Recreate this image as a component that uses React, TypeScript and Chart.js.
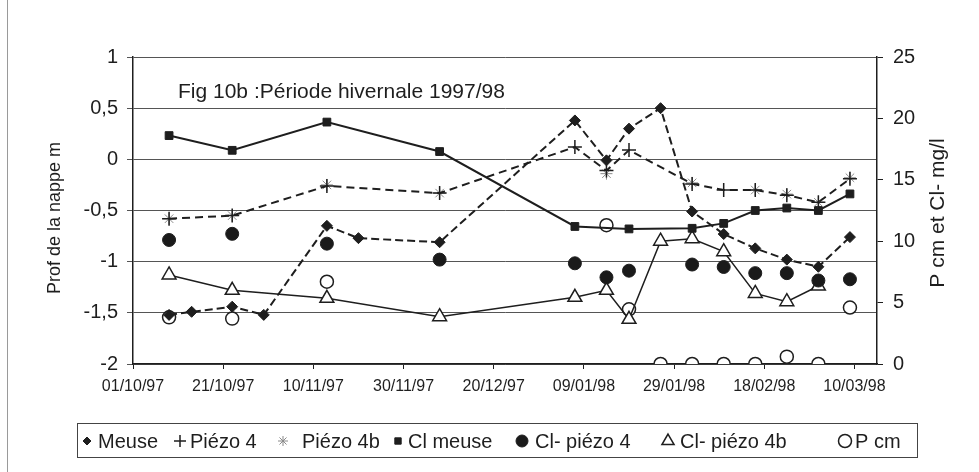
import React, { useEffect, useRef } from "react";
import { Chart, registerables } from "chart.js";
import { drawPoint } from "chart.js/helpers";

Chart.register(...registerables);

// ---------- data ----------
const baseDate = "1997-10-01";
const obsDates = [
  "1997-10-09", "1997-10-23", "1997-11-13", "1997-12-08", "1998-01-07",
  "1998-01-14", "1998-01-19", "1998-01-26", "1998-02-02", "1998-02-09",
  "1998-02-16", "1998-02-23", "1998-03-02", "1998-03-09",
];
const meuseDates = [
  "1997-10-09", "1997-10-14", "1997-10-23", "1997-10-30", "1997-11-13",
  "1997-11-20", "1997-12-08", "1998-01-07", "1998-01-14", "1998-01-19",
  "1998-01-26", "1998-02-02", "1998-02-09", "1998-02-16", "1998-02-23",
  "1998-03-02", "1998-03-09",
];
const meuseValues = [
  -1.52, -1.49, -1.44, -1.52, -0.65, -0.77, -0.81, 0.38, -0.01, 0.3, 0.5,
  -0.51, -0.73, -0.87, -0.98, -1.05, -0.76,
];
const piezo4Values = [-0.58, -0.55, -0.26, -0.33, 0.12, -0.11, 0.09, null, -0.24, -0.3, -0.3, -0.35, -0.42, -0.19];
const piezo4bValues = [-0.58, -0.55, -0.25, -0.33, null, -0.14, null, null, -0.23, null, -0.3, -0.34, -0.42, -0.18];
const clMeuseValues = [18.6, 17.4, 19.7, 17.3, 11.2, null, 11.0, null, 11.05, 11.45, 12.5, 12.7, 12.5, 13.85];
const clPiezo4Values = [10.1, 10.6, 9.8, 8.5, 8.2, 7.06, 7.6, null, 8.1, 7.9, 7.4, 7.4, 6.8, 6.9];
const clPiezo4bValues = [7.25, 6.0, 5.35, 3.85, 5.43, 6.0, 3.64, 10.0, 10.2, 9.15, 5.75, 5.07, 6.35, null];
const pCmValues = [3.8, 3.7, 6.7, null, null, 11.3, 4.45, 0, 0, 0, 0, 0.6, 0, 4.6];

const xTickDays = [0, 20, 40, 60, 80, 100, 120, 140, 160];
const leftTicks = [-2, -1.5, -1, -0.5, 0, 0.5, 1];
const rightTicks = [0, 5, 10, 15, 20, 25];

const chartTitle = "Fig 10b :Période hivernale 1997/98";
const leftAxisTitle = "Prof de la nappe m";
const rightAxisTitle = "P cm et Cl- mg/l";
const seriesLabels = ["Meuse", "Piézo 4", "Piézo 4b", "Cl meuse", "Cl- piézo 4", "Cl- piézo 4b", "P cm"];

// ---------- helpers ----------
const DAY = 86400000;
const toUTC = (s: string) => {
  const [y, m, d] = s.split("-").map(Number);
  return Date.UTC(y, m - 1, d);
};
const dayOf = (s: string) => (toUTC(s) - toUTC(baseDate)) / DAY;
const fmtDay = (v: number) => {
  const d = new Date(toUTC(baseDate) + v * DAY);
  const dd = String(d.getUTCDate()).padStart(2, "0");
  const mm = String(d.getUTCMonth() + 1).padStart(2, "0");
  const yy = String(d.getUTCFullYear() % 100).padStart(2, "0");
  return `${dd}/${mm}/${yy}`;
};
const series = (dates: string[], vals: (number | null)[]) =>
  dates
    .map((d, i) => ({ x: dayOf(d), y: vals[i] }))
    .filter((p) => p.y !== null && p.y !== undefined);

const FONT = "'Liberation Sans', Arial, sans-serif";
const INK = "#1e1e1e";

export default function App() {
  const ref = useRef<HTMLCanvasElement | null>(null);

  useEffect(() => {
    document.body.style.margin = "0";
    const canvas = ref.current!;
    Chart.defaults.font.family = FONT;
    Chart.defaults.color = INK;

    const datasets: any[] = [
      {
        label: seriesLabels[0],
        data: series(meuseDates, meuseValues),
        yAxisID: "y",
        borderColor: INK,
        borderWidth: 2,
        borderDash: [8, 4],
        pointStyle: "rectRot",
        pointRadius: 5.5,
        pointBackgroundColor: INK,
        pointBorderColor: INK,
        pointBorderWidth: 1,
      },
      {
        label: seriesLabels[1],
        data: series(obsDates, piezo4Values),
        yAxisID: "y",
        borderColor: INK,
        borderWidth: 2,
        borderDash: [8, 5],
        pointStyle: "cross",
        pointRadius: 7,
        pointBorderColor: INK,
        pointBorderWidth: 1.5,
      },
      {
        label: seriesLabels[2],
        data: series(obsDates, piezo4bValues),
        yAxisID: "y",
        showLine: false,
        pointStyle: "star",
        pointRadius: 6,
        pointBorderColor: "#8a8a8a",
        pointBorderWidth: 1,
      },
      {
        label: seriesLabels[3],
        data: series(obsDates, clMeuseValues),
        yAxisID: "y1",
        borderColor: INK,
        borderWidth: 2,
        pointStyle: "rect",
        pointRadius: 5.5,
        pointBackgroundColor: INK,
        pointBorderColor: INK,
        pointBorderWidth: 1,
      },
      {
        label: seriesLabels[4],
        data: series(obsDates, clPiezo4Values),
        yAxisID: "y1",
        showLine: false,
        pointStyle: "circle",
        pointRadius: 6.5,
        pointBackgroundColor: "#1a1a1a",
        pointBorderColor: INK,
        pointBorderWidth: 1,
      },
      {
        label: seriesLabels[5],
        data: series(obsDates, clPiezo4bValues),
        yAxisID: "y1",
        borderColor: INK,
        borderWidth: 1.5,
        pointStyle: "triangle",
        pointRadius: 8,
        pointBackgroundColor: "#ffffff",
        pointBorderColor: INK,
        pointBorderWidth: 1.5,
      },
      {
        label: seriesLabels[6],
        data: series(obsDates, pCmValues),
        yAxisID: "y1",
        showLine: false,
        pointStyle: "circle",
        pointRadius: 6.5,
        pointBackgroundColor: "#ffffff",
        pointBorderColor: INK,
        pointBorderWidth: 1.5,
      },
    ];

    const legendLayout = [
      { mx: 87, tx: 98, r: 4 },
      { mx: 180, tx: 190, r: 6 },
      { mx: 283, tx: 302, r: 5 },
      { mx: 398, tx: 408, r: 4.5 },
      { mx: 522, tx: 535, r: 6 },
      { mx: 668, tx: 680, r: 7 },
      { mx: 845, tx: 855, r: 6.5 },
    ];

    const decor = {
      id: "decor",
      afterDraw(chart: any) {
        const ctx = chart.ctx as CanvasRenderingContext2D;
        ctx.save();
        // outer left border
        ctx.strokeStyle = "#9a9a9a";
        ctx.lineWidth = 1;
        ctx.beginPath();
        ctx.moveTo(7.5, 0);
        ctx.lineTo(7.5, 472);
        ctx.stroke();
        // title inside plot
        ctx.fillStyle = INK;
        ctx.font = `21px ${FONT}`;
        ctx.textBaseline = "alphabetic";
        ctx.textAlign = "left";
        ctx.fillText(chartTitle, 178, 98);
        // axis titles (both read bottom to top)
        ctx.textAlign = "center";
        ctx.textBaseline = "middle";
        ctx.save();
        ctx.translate(55, 218);
        ctx.rotate(-Math.PI / 2);
        ctx.font = `18px ${FONT}`;
        ctx.fillText(leftAxisTitle, 0, 0);
        ctx.restore();
        ctx.save();
        ctx.translate(938, 213);
        ctx.rotate(-Math.PI / 2);
        ctx.font = `21px ${FONT}`;
        ctx.fillText(rightAxisTitle, 0, 0);
        ctx.restore();
        // legend box
        ctx.textAlign = "left";
        ctx.strokeStyle = "#444";
        ctx.lineWidth = 1;
        ctx.strokeRect(77.5, 423.5, 840, 34);
        ctx.font = `20px ${FONT}`;
        ctx.textBaseline = "middle";
        const cy = 441;
        chart.data.datasets.forEach((ds: any, i: number) => {
          const L = legendLayout[i];
          ctx.fillStyle = ds.pointBackgroundColor || INK;
          ctx.strokeStyle = ds.pointBorderColor || INK;
          ctx.lineWidth = ds.pointBorderWidth || 1;
          drawPoint(ctx, { pointStyle: ds.pointStyle, rotation: 0, radius: L.r, borderWidth: ds.pointBorderWidth || 1 } as any, L.mx, cy);
          ctx.fillStyle = INK;
          ctx.fillText(ds.label, L.tx, cy + 1);
        });
        ctx.restore();
      },
    };

    const chart = new Chart(canvas, {
      type: "line",
      data: { datasets },
      options: {
        responsive: false,
        animation: false,
        events: [],
        layout: { padding: { top: 57, left: 0, right: 0, bottom: 68 } },
        plugins: { legend: { display: false }, tooltip: { enabled: false }, title: { display: false } },
        scales: {
          x: {
            type: "linear",
            min: 0,
            max: 165,
            afterBuildTicks: (s: any) => {
              s.ticks = xTickDays.map((v) => ({ value: v }));
            },
            afterFit: (s: any) => {
              s.height = 40;
            },
            grid: { drawOnChartArea: false, drawTicks: true, tickLength: 5, color: INK, lineWidth: 1 },
            border: { display: true, color: INK, width: 1.5 },
            ticks: {
              font: { size: 16 },
              color: INK,
              padding: 8,
              maxRotation: 0,
              autoSkip: false,
              callback: (v: any) => fmtDay(Number(v)),
            },
          },
          y: {
            type: "linear",
            position: "left",
            min: -2,
            max: 1,
            afterBuildTicks: (s: any) => {
              s.ticks = leftTicks.map((v) => ({ value: v }));
            },
            afterFit: (s: any) => {
              s.width = 133;
            },
            grid: { color: "#555", lineWidth: 1, tickLength: 6, drawTicks: true },
            border: { display: true, color: INK, width: 1.5 },
            ticks: {
              font: { size: 20 },
              color: INK,
              padding: 9,
              callback: (v: any) => String(v).replace(".", ","),
            },
          },
          y1: {
            type: "linear",
            position: "right",
            min: 0,
            max: 25,
            afterBuildTicks: (s: any) => {
              s.ticks = rightTicks.map((v) => ({ value: v }));
            },
            afterFit: (s: any) => {
              s.width = 102;
            },
            grid: { drawOnChartArea: false, tickLength: 6, color: INK, lineWidth: 1 },
            border: { display: true, color: INK, width: 1.5 },
            ticks: { font: { size: 20 }, color: INK, padding: 10 },
          },
        },
      } as any,
      plugins: [decor],
    });
    return () => chart.destroy();
  }, []);

  return <canvas ref={ref} width={979} height={472} style={{ display: "block" }} />;
}
